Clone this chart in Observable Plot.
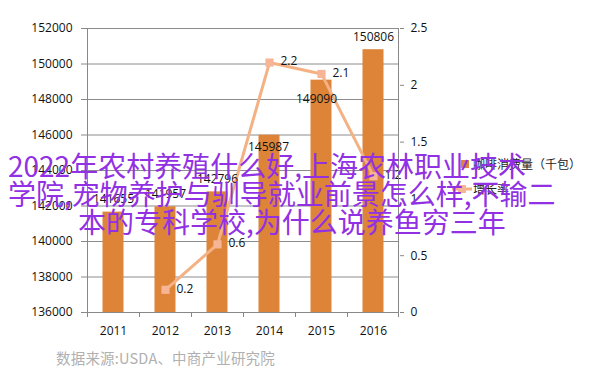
<!DOCTYPE html>
<html>
<head>
<meta charset="utf-8">
<script src="https://cdn.jsdelivr.net/npm/d3@7"></script>
<script src="https://cdn.jsdelivr.net/npm/@observablehq/plot@0.6"></script>
<style>
  html, body { margin: 0; padding: 0; background: #fff; }
  #wrap { position: relative; width: 602px; height: 384px; overflow: hidden; background: #fff; }
  #chart { position: absolute; left: 0; top: 0; }
  .legend { position: absolute; left: 452px; font-family: "Noto Sans CJK SC", sans-serif; font-size: 12px; color: #222; white-space: nowrap; }
  .legend .item { position: absolute; left: 0; height: 16px; line-height: 16px; }
  .legend svg { position: absolute; left: 0; top: 0; }
  .legend span { position: absolute; left: 21px; top: 0; }
  .wm { position: absolute; font-family: "Noto Sans CJK SC", sans-serif; font-size: 28px; line-height: 28px; color: #9131E3; white-space: nowrap; }
  #caption { position: absolute; left: 56px; top: 349px; font-family: "Noto Sans CJK SC", serif; font-size: 14.5px; line-height: 18px; color: #b0b0b0; white-space: nowrap; letter-spacing: 0.2px; }
</style>
</head>
<body>
<div id="wrap">
  <div id="chart"></div>
  <div class="legend" style="top:0">
    <div class="item" style="top:156px">
      <svg width="20" height="16"><rect x="9" y="4" width="8" height="8" fill="#DE8439"></rect></svg>
      <span id="leg1"></span>
    </div>
    <div class="item" style="top:181px">
      <svg width="20" height="16"><line x1="0" y1="8" x2="20" y2="8" stroke="#F4B183" stroke-width="3"></line><rect x="6" y="4" width="8" height="8" fill="#F7B596"></rect></svg>
      <span id="leg2"></span>
    </div>
  </div>
  <div class="wm" id="wm1" style="left:8px; top:151px"></div>
  <div class="wm" id="wm2" style="left:8px; top:179px"></div>
  <div class="wm" id="wm3" style="left:78px; top:207px"></div>
  <div id="caption"></div>
</div>
<script>
// ---- data ----
const years = ["2011", "2012", "2013", "2014", "2015", "2016"];
const consumption = [141655, 141957, 142796, 145987, 149090, 150806];
const growth = [null, 0.2, 0.6, 2.2, 2.1, 1.2];
const leftTicks = [136000, 138000, 140000, 142000, 144000, 146000, 148000, 150000, 152000];
const rightTicks = [0, 0.5, 1, 1.5, 2, 2.5];
const seriesNames = ["咖啡消费量（千包）", "增长率"];
const captionText = "数据来源:USDA、中商产业研究院";
const watermarkLines = [
  "2022年农村养殖什么好,上海农林职业技术",
  "学院,宠物养护与驯导就业前景怎么样,不输二",
  "本的专科学校,为什么说养鱼穷三年"
];

// ---- derived ----
const yMin = 136000, yMax = 152000, rMax = 2.5;
const toLeft = g => yMin + g * (yMax - yMin) / rMax;
const fromLeft = v => (v - yMin) * rMax / (yMax - yMin);

const bars = years.map((y, i) => ({year: y, value: consumption[i]}));
const line = years.map((y, i) => ({year: y, g: growth[i]})).filter(d => d.g != null);

const barColor = "#DE8439";
const lineColor = "#F4B183";
const dotColor = "#F7B596";
const gridColor = "#8c8c8c";

const plot = Plot.plot({
  width: 602,
  height: 345,
  marginLeft: 86,
  marginRight: 203,
  marginTop: 28,
  marginBottom: 33,
  x: {type: "band", domain: years, padding: 0},
  y: {domain: [yMin, yMax]},
  style: {fontFamily: "'Open Sans', sans-serif", fontSize: "12px", color: "#111", background: "transparent"},
  marks: [
    Plot.gridY(leftTicks.slice(1), {stroke: gridColor, strokeOpacity: 1}),
    Plot.barY(bars, {x: "year", y1: yMin, y2: "value", fill: barColor, insetLeft: 15.5, insetRight: 15.5}),
    Plot.ruleY([yMin], {stroke: "#888"}),
    Plot.axisY({ticks: leftTicks, tickFormat: d => String(d), tickSize: 5, tickPadding: 9, label: null, stroke: "#888"}),
    Plot.axisY({anchor: "right", ticks: rightTicks.map(toLeft), tickFormat: d => String(+fromLeft(d).toFixed(1)), tickSize: 4, tickPadding: 7, label: null, stroke: "#888"}),
    Plot.axisX({tickSize: 0, tickPadding: 14, label: null}),
    Plot.line(line, {x: "year", y: d => toLeft(d.g), stroke: lineColor, strokeWidth: 3}),
    Plot.dot(line, {x: "year", y: d => toLeft(d.g), symbol: "square", r: 4.6, fill: dotColor, stroke: "none"}),
    Plot.text(line, {x: "year", y: d => toLeft(d.g), text: d => String(d.g), textAnchor: "start", dx: 11, dy: -1, fill: "#111"}),
    Plot.text(bars.filter(d => d.year !== "2014" && d.year !== "2015"), {x: "year", y: "value", text: d => String(d.value), dy: -13, fill: "#111"}),
    Plot.text(bars.filter(d => d.year === "2014"), {x: "year", y: "value", text: d => String(d.value), dy: 12, dx: -1, fill: "#111"}),
    Plot.text(bars.filter(d => d.year === "2015"), {x: "year", y: "value", text: d => String(d.value), dy: 19, dx: -5, fill: "#111"})
  ]
});

// axis lines and category-boundary ticks, placed via the plot's own scales
const xs = plot.scale("x");
const ys = plot.scale("y");
const svg = d3.select(plot);
const yTop = ys.apply(yMax), yBot = ys.apply(yMin);
const xLeft = xs.apply(years[0]);
const xRight = xs.apply(years[years.length - 1]) + xs.bandwidth;
const g = svg.append("g").attr("stroke", "#888").attr("stroke-width", 1);
g.append("line").attr("x1", xLeft + 0.5).attr("x2", xLeft + 0.5).attr("y1", yTop).attr("y2", yBot);
g.append("line").attr("x1", xRight - 0.5).attr("x2", xRight - 0.5).attr("y1", yTop).attr("y2", yBot);
years.forEach((y, i) => {
  const x = xs.apply(y) + 0.5;
  g.append("line").attr("x1", x).attr("x2", x).attr("y1", yBot).attr("y2", yBot + 5);
});
g.append("line").attr("x1", xRight - 0.5).attr("x2", xRight - 0.5).attr("y1", yBot).attr("y2", yBot + 5);

document.getElementById("chart").appendChild(plot);
document.getElementById("leg1").textContent = seriesNames[0];
document.getElementById("leg2").textContent = seriesNames[1];
document.getElementById("caption").textContent = captionText;
document.getElementById("wm1").textContent = watermarkLines[0];
document.getElementById("wm2").textContent = watermarkLines[1];
document.getElementById("wm3").textContent = watermarkLines[2];
</script>
</body>
</html>
